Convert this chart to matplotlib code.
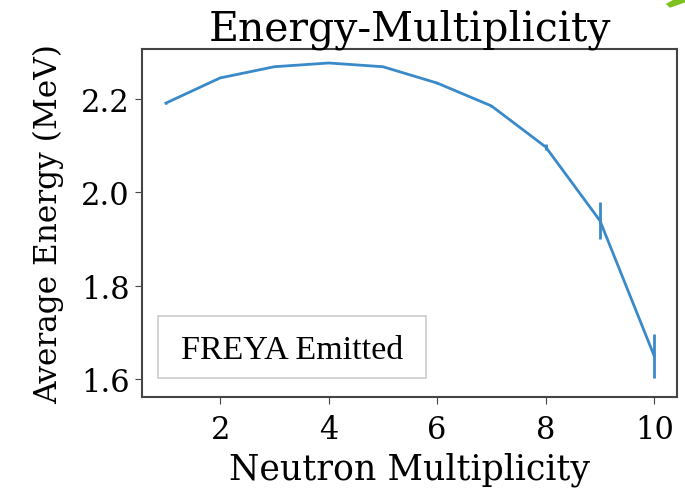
import numpy as np
import matplotlib
matplotlib.use("Agg")
from matplotlib import pyplot as plt
from matplotlib.patches import Polygon, Rectangle

multiplicity = [1, 2, 3, 4, 5, 6, 7, 8, 9, 10]
avg_energy = [2.191, 2.245, 2.269, 2.277, 2.269, 2.234, 2.185, 2.097, 1.939, 1.649]
energy_err = [0.001, 0.001, 0.001, 0.001, 0.001, 0.002, 0.003, 0.006, 0.040, 0.047]

plt.rcParams['font.family'] = 'DejaVu Serif'

fig = plt.figure(figsize=(6.85, 4.89), dpi=100)
ax = fig.add_axes([142 / 685, 1 - 398 / 489, 535 / 685, 348 / 489])

ax.errorbar(multiplicity, avg_energy, yerr=energy_err, color='#3a8ac9', lw=2, elinewidth=2)
ax.set_xlim(0.56, 10.42)
ax.set_ylim(1.561, 2.307)
ax.set_xticks([2, 4, 6, 8, 10])
ax.set_yticks([1.6, 1.8, 2.0, 2.2])
ax.tick_params(labelsize=22, length=5, color='#444444')
ax.tick_params(axis='x', pad=7)
ax.tick_params(axis='y', pad=4)
for s in ax.spines.values():
	s.set_color('#444444')
	s.set_linewidth(1.5)

ax.set_title('Energy-Multiplicity', fontsize=29.5, pad=5)
ax.set_xlabel('Neutron Multiplicity', fontsize=25, labelpad=5)
ax.set_ylabel('Average Energy (MeV)', fontsize=22.5, labelpad=12)

# label box in the lower left
ax.add_patch(Rectangle((0.030, 0.055), 0.501, 0.178, transform=ax.transAxes,
	fc='white', ec='#cccccc', lw=1.2, zorder=3))
ax.text(0.28, 0.136, 'FREYA Emitted', transform=ax.transAxes, ha='center', va='center',
	fontsize=24.5, family='Liberation Serif', zorder=4)

# green corner sliver
fig.patches.append(Polygon([(0.972, 0.99), (0.985, 1.0), (1.0, 1.0), (1.0, 0.993), (0.978, 0.982)],
	closed=True, transform=fig.transFigure, fc='#7dc21e', ec='none'))

fig.savefig('out.png', dpi=100)
